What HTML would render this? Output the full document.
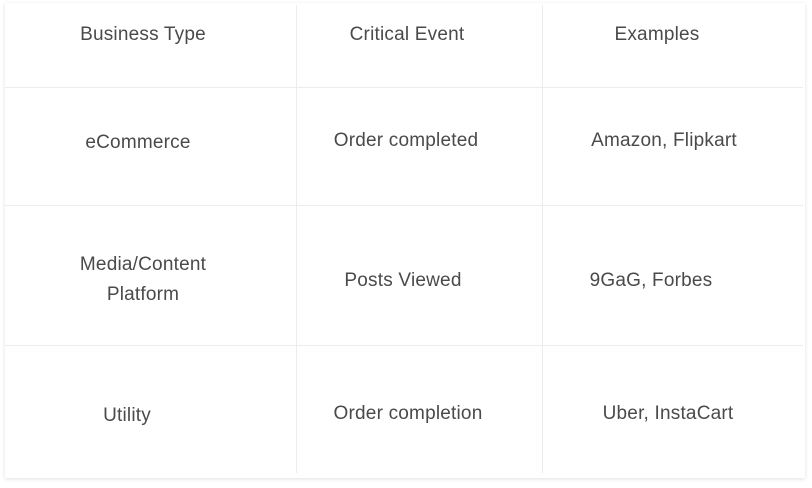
<!DOCTYPE html>
<html><head><style>
body{margin:0;width:812px;height:488px;background:#fff;position:relative;overflow:hidden;font-family:"Liberation Sans",sans-serif;}
.card{position:absolute;left:5px;top:3px;width:800px;height:475px;background:#fff;box-shadow:0 1px 4px rgba(0,0,0,0.12);}
.h{position:absolute;left:5px;width:798px;height:1px;background:#ececec;}
.v{position:absolute;top:5px;width:1px;height:468px;background:#ececec;}
.t{position:absolute;transform:translate(-50%,-50%);white-space:nowrap;color:#4a4a4a;font-size:19px;letter-spacing:0.2px;text-align:center;line-height:30px;}
</style></head><body>
<div class="card"></div>
<div class="h" style="top:87px"></div>
<div class="h" style="top:205px"></div>
<div class="h" style="top:345px"></div>
<div class="v" style="left:296px"></div>
<div class="v" style="left:542px"></div>
<div class="t" style="left:143px;top:35px">Business Type</div>
<div class="t" style="left:407px;top:35px">Critical Event</div>
<div class="t" style="left:657px;top:35px">Examples</div>
<div class="t" style="left:138px;top:143px">eCommerce</div>
<div class="t" style="left:406px;top:141px">Order completed</div>
<div class="t" style="left:664px;top:141px">Amazon, Flipkart</div>
<div class="t" style="left:143px;top:280px">Media/Content<br>Platform</div>
<div class="t" style="left:403px;top:281px">Posts Viewed</div>
<div class="t" style="left:651px;top:281px">9GaG, Forbes</div>
<div class="t" style="left:127px;top:416px">Utility</div>
<div class="t" style="left:408px;top:414px">Order completion</div>
<div class="t" style="left:668px;top:414px">Uber, InstaCart</div>
</body></html>
